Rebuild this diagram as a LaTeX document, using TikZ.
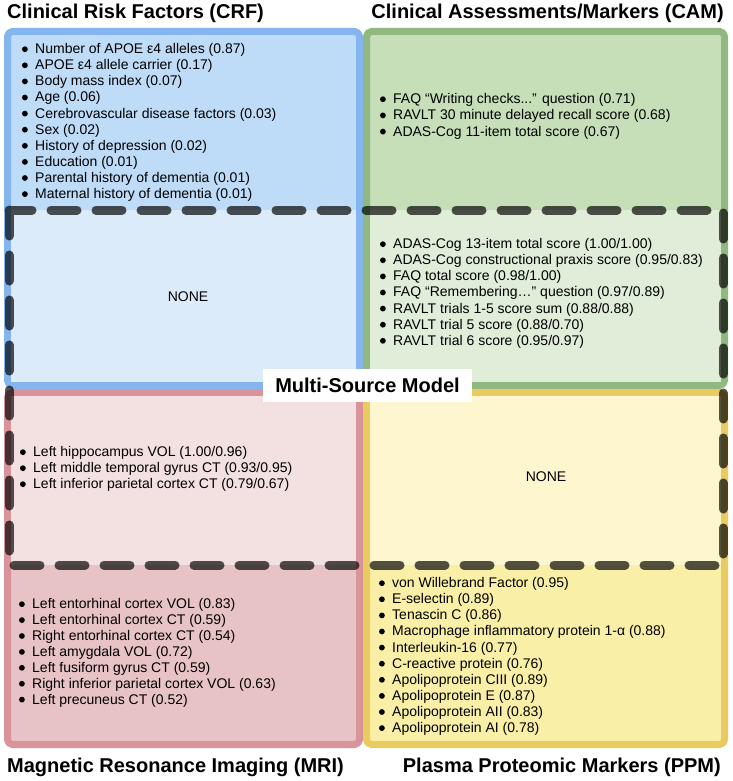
\documentclass[tikz,border=0pt]{standalone}
\usepackage{fontspec}
\setmainfont{Liberation Sans}
\definecolor{crfline}{HTML}{84B5EE}
\definecolor{crffill}{HTML}{BEDCF7}
\definecolor{crflight}{HTML}{DCEBF9}
\definecolor{camline}{HTML}{92B882}
\definecolor{camfill}{HTML}{C6DFB9}
\definecolor{camlight}{HTML}{E0EDD9}
\definecolor{mriline}{HTML}{D9939A}
\definecolor{mrifill}{HTML}{E8C3C6}
\definecolor{mrilight}{HTML}{F3E0E0}
\definecolor{ppmline}{HTML}{EACB62}
\definecolor{ppmfill}{HTML}{FAEFA6}
\definecolor{ppmlight}{HTML}{FDF6CF}

\begin{document}
\begin{tikzpicture}[x=1pt,y=-1pt,font=\fontsize{14}{16}\selectfont,line join=round,
  quad/.style={line width=7pt,rounded corners=5pt},
  fence/.style={line width=9pt,line cap=round,dash pattern=on 26pt off 19pt,
    draw=black,draw opacity=.68},
  title/.style={font=\fontsize{20}{24}\selectfont\bfseries,inner sep=0pt},
  dot/.style={circle,fill=black,inner sep=0pt,minimum size=5.8pt},
  item/.style={anchor=west,inner sep=0pt,label={[dot,label distance=7pt,yshift=.8pt]left:{}}}]
  \useasboundingbox (0,0) rectangle (732,781);

  % quadrants
  \draw[quad,crfline,fill=crffill] (7.5,31.5) rectangle (359.5,385.5);
  \draw[quad,camline,fill=camfill] (366.5,31.5) rectangle (724.5,385.5);
  \draw[quad,mriline,fill=mrifill] (7.5,392.5) rectangle (359.5,744.5);
  \draw[quad,ppmline,fill=ppmfill] (366.5,392.5) rectangle (724.5,744.5);
  \fill[crflight] (11,210) rectangle (356,382);
  \fill[camlight] (370,210) rectangle (721,382);
  \fill[mrilight] (11,396) rectangle (356,565);
  \fill[ppmlight] (370,396) rectangle (721,565);

  % multi-source region
  \draw[fence] (9,210) rectangle (723,565);
  \node[title,fill=white,minimum width=209pt,minimum height=33pt] (msm)
    at (367.5,385.5) {Multi-Source Model};

  % titles
  \node[title,anchor=west] (crf) at (7,13) {Clinical Risk Factors (CRF)};
  \node[title,anchor=east] (cam) at (724,13) {Clinical Assessments/Markers (CAM)};
  \node[title,anchor=west] (mri) at (7,767) {Magnetic Resonance Imaging (MRI)};
  \node[title,anchor=east] (ppm) at (721,767) {Plasma Proteomic Markers (PPM)};

  % single-source lists
  \foreach \t [count=\i] in {Number of APOE ε4 alleles (0.87),APOE ε4 allele carrier (0.17),
    Body mass index (0.07),Age (0.06),Cerebrovascular disease factors (0.03),Sex (0.02),
    History of depression (0.02),Education (0.01),Parental history of dementia (0.01),
    Maternal history of dementia (0.01)}
    \node[item] (crf\i) at (35,{50+16.1*(\i-1)}) {\t};
  \foreach \t [count=\i] in {FAQ “Writing checks.{}.{}.” question (0.71),
    RAVLT 30 minute delayed recall score (0.68),ADAS-Cog 11-item total score (0.67)}
    \node[item] (cam\i) at (393,{100+16.2*(\i-1)}) {\t};
  \foreach \t [count=\i] in {Left entorhinal cortex VOL (0.83),Left entorhinal cortex CT (0.59),
    Right entorhinal cortex CT (0.54),Left amygdala VOL (0.72),Left fusiform gyrus CT (0.59),
    Right inferior parietal cortex VOL (0.63),Left precuneus CT (0.52)}
    \node[item] (mri\i) at (32,{605+15.9*(\i-1)}) {\t};
  \foreach \t [count=\i] in {von Willebrand Factor (0.95),E-selectin (0.89),Tenascin C (0.86),
    Macrophage inflammatory protein 1-α (0.88),Interleukin-16 (0.77),C-reactive protein (0.76),
    Apolipoprotein CIII (0.89),Apolipoprotein E (0.87),Apolipoprotein AII (0.83),
    Apolipoprotein AI (0.78)}
    \node[item] (ppm\i) at (392,{584+16.1*(\i-1)}) {\t};

  % multi-source lists
  \node (crfnone) at (188,297) {NONE};
  \foreach \t [count=\i] in {ADAS-Cog 13-item total score (1.00/1.00),
    ADAS-Cog constructional praxis score (0.95/0.83),FAQ total score (0.98/1.00),
    FAQ “Remembering…” question (0.97/0.89),RAVLT trials 1-5 score sum (0.88/0.88),
    RAVLT trial 5 score (0.88/0.70),RAVLT trial 6 score (0.95/0.97)}
    \node[item] (camms\i) at (393,{245+16.1*(\i-1)}) {\t};
  \foreach \t [count=\i] in {Left hippocampus VOL (1.00/0.96),
    Left middle temporal gyrus CT (0.93/0.95),Left inferior parietal cortex CT (0.79/0.67)}
    \node[item] (mrims\i) at (33,{453+16*(\i-1)}) {\t};
  \node (ppmnone) at (546,477) {NONE};
\end{tikzpicture}
\end{document}
